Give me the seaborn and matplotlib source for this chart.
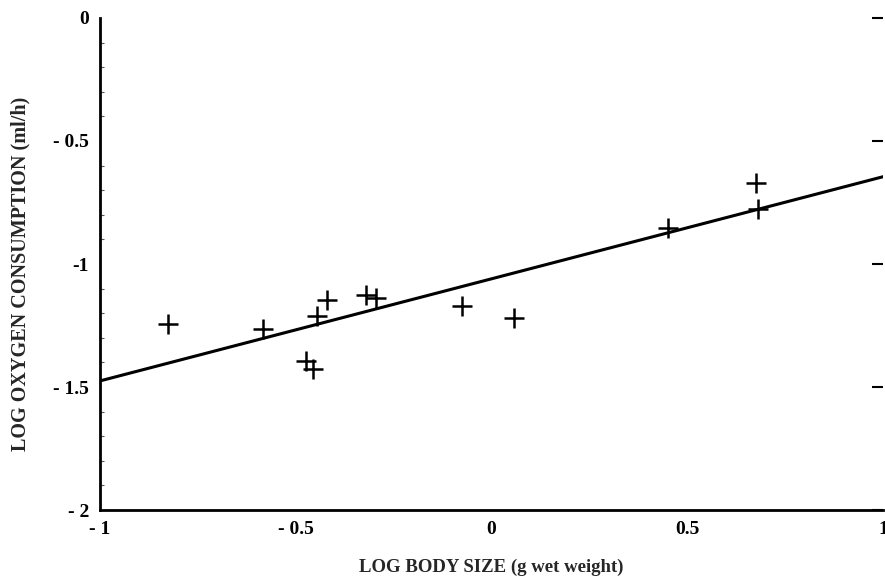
import matplotlib
matplotlib.use("Agg")
import matplotlib.pyplot as plt
import seaborn as sns
import pandas as pd
from matplotlib.ticker import FixedLocator, MultipleLocator

# ---- data ----
body_size = [-0.826, -0.584, -0.446, -0.420, -0.474, -0.456, -0.321, -0.295,
             -0.075, 0.057, 0.451, 0.675, 0.681]
oxygen = [-1.244, -1.264, -1.211, -1.146, -1.394, -1.427, -1.126, -1.138,
          -1.171, -1.220, -0.854, -0.669, -0.777]
fit_x = [-1.0, 1.0]
fit_y = [-1.475, -0.645]

x_ticks = [-1, -0.5, 0, 0.5, 1]
x_ticklabels = ["- 1", "- 0.5", "0", "0.5", "1"]
y_ticks = [0, -0.5, -1, -1.5, -2]
y_ticklabels = ["0", "- 0.5", "-1", "- 1.5", "- 2"]

pts = pd.DataFrame({"x": body_size, "y": oxygen})
fit = pd.DataFrame({"x": fit_x, "y": fit_y})

sns.set_theme(style="white")
plt.rcParams["font.family"] = ["Liberation Serif", "DejaVu Serif"]
plt.rcParams["font.weight"] = "bold"

fig = plt.figure(figsize=(8.85, 5.79), dpi=100)
ax = fig.add_axes([0.113, 0.119, 0.885, 0.850])

sns.lineplot(data=fit, x="x", y="y", ax=ax, color="black", linewidth=2.2)
sns.scatterplot(data=pts, x="x", y="y", ax=ax, marker="+", s=200,
                color="black", linewidth=1.8)

ax.set_xlim(-1, 1)
ax.set_ylim(-2, 0)

for side in ["top", "right"]:
    ax.spines[side].set_visible(False)
for side in ["left", "bottom"]:
    ax.spines[side].set_linewidth(2.0)
    ax.spines[side].set_color("black")

ax.xaxis.set_major_locator(FixedLocator(x_ticks))
ax.set_xticklabels(x_ticklabels, fontsize=14, fontweight="bold")
ax.yaxis.set_major_locator(FixedLocator(y_ticks))
ax.set_yticklabels(y_ticklabels, fontsize=14, fontweight="bold")
ax.yaxis.set_minor_locator(MultipleLocator(0.1))

ax.tick_params(axis="x", which="major", direction="in", length=9, width=1.5,
               pad=8, colors="black")
ax.tick_params(axis="y", which="major", direction="in", length=8, width=1.5,
               pad=8, colors="black", right=True)
ax.tick_params(axis="y", which="minor", direction="in", length=3, width=0.8,
               left=True, right=False, colors="#555555")

ax.set_xlabel("LOG BODY SIZE (g wet weight)", fontsize=13.5, fontweight="bold",
              labelpad=15)
ax.set_ylabel("LOG OXYGEN CONSUMPTION (ml/h)", fontsize=14.5, fontweight="bold")
ax.yaxis.set_label_coords(-0.089, 0.48)

fig.savefig("out.png", dpi=100, facecolor="white")
